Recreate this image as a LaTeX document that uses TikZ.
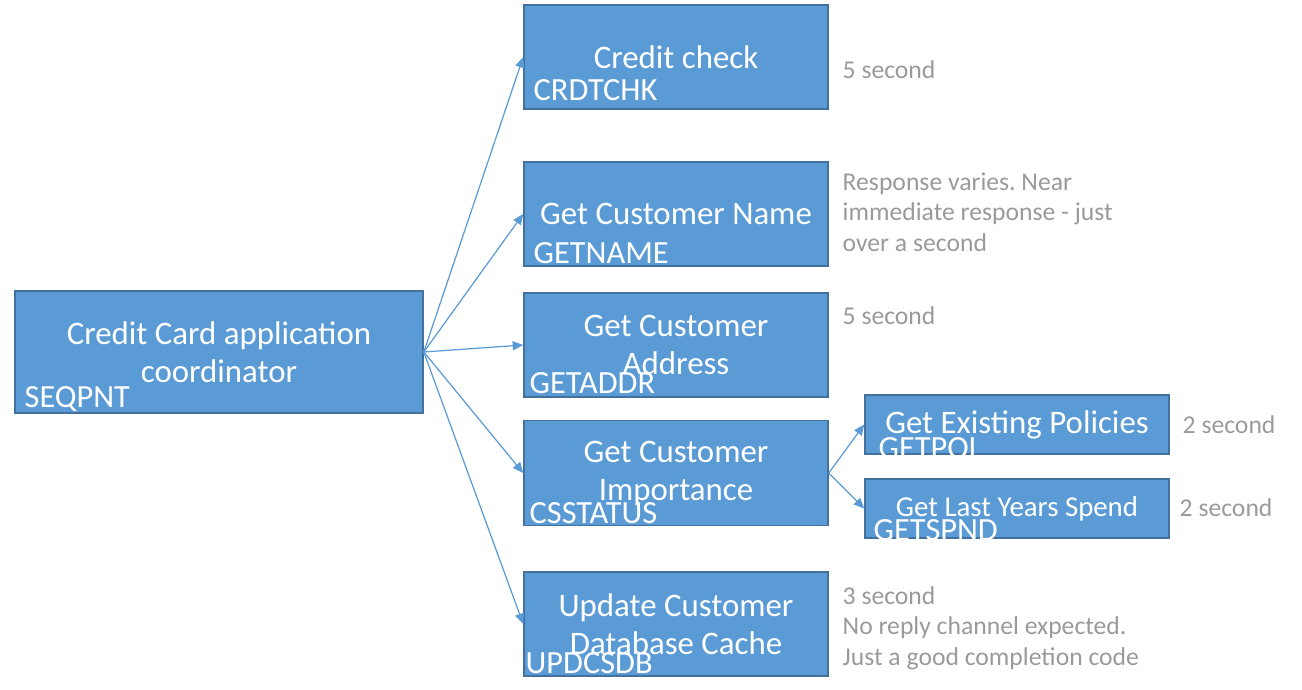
\documentclass[tikz,border=0pt]{standalone}
\usepackage{fontspec}
\setmainfont{Carlito}
\usetikzlibrary{arrows.meta}
\definecolor{taskblue}{HTML}{5B9BD5}
\definecolor{taskedge}{HTML}{41719C}
\definecolor{notegray}{HTML}{9A9A9A}
\frenchspacing

\begin{document}
\begin{tikzpicture}[
        task/.style={rectangle, draw=taskedge, line width=0.45pt, fill=taskblue, text=white, align=center,
            minimum width=3.04cm, minimum height=1.04cm, inner sep=0pt, font=\fontsize{9.35}{10.8}\selectfont},
        progid/.style={anchor=base west, inner sep=0pt, text=white, font=\fontsize{9.2}{10.8}\selectfont},
        note/.style={anchor=west, inner sep=0pt, align=left, text=notegray, font=\fontsize{7.3}{8.7}\selectfont},
        call/.style={draw=taskblue, line width=0.35pt, -{Triangle[length=3pt,width=2.6pt]}}
    ]
        \useasboundingbox (0,0) rectangle (13.02,-6.90);

        \node[task, minimum width=4.08cm, minimum height=1.22cm] (seqpnt) at (2.19,-3.52) {Credit Card application\\coordinator};
        \node[task] (crdtchk) at (6.76,-0.57) {Credit check};
        \node[task] (getname) at (6.76,-2.14) {Get Customer Name};
        \node[task] (getaddr) at (6.76,-3.45) {Get Customer\\Address};
        \node[task, minimum height=1.05cm] (csstatus) at (6.76,-4.73) {Get Customer\\Importance};
        \node[task] (updcsdb) at (6.76,-6.24) {Update Customer\\Database Cache};
        \node[task, minimum height=0.59cm] (getpol) at (10.17,-4.245) {Get Existing Policies};
        \node[task, minimum height=0.59cm, font=\fontsize{8.2}{9.7}\selectfont] (getspnd) at (10.17,-5.085) {Get Last Years Spend};

        % program names
        \node[progid] (seqpnt-id) at (0.24,-4.07) {SEQPNT};
        \node[progid] (crdtchk-id) at (5.33,-1.00) {CRDTCHK};
        \node[progid] (getname-id) at (5.33,-2.63) {GETNAME};
        \node[progid] (getaddr-id) at (5.29,-3.93) {GETADDR};
        \node[progid] (csstatus-id) at (5.29,-5.23) {CSSTATUS};
        \node[progid] (updcsdb-id) at (5.25,-6.73) {UPDCSDB};
        \node[progid] (getpol-id) at (8.78,-4.58) {GETPOL};
        \node[progid] (getspnd-id) at (8.73,-5.40) {GETSPND};

        % response times
        \node[note] (crdtchk-time) at (8.42,-0.70) {5 second};
        \node[note] (getname-time) at (8.42,-2.12) {Response varies. Near\\immediate response - just\\over a second};
        \node[note] (getaddr-time) at (8.42,-3.16) {5 second};
        \node[note] (getpol-time) at (11.82,-4.25) {2 second};
        \node[note] (getspnd-time) at (11.79,-5.08) {2 second};
        \node[note] (updcsdb-time) at (8.42,-6.28) {3 second\\No reply channel expected.\\Just a good completion code};

        \draw[call] (seqpnt.east) -- (crdtchk.west);
        \draw[call] (seqpnt.east) -- (getname.west);
        \draw[call] (seqpnt.east) -- (getaddr.west);
        \draw[call] (seqpnt.east) -- (csstatus.west);
        \draw[call] (seqpnt.east) -- (updcsdb.west);
        \draw[call] (csstatus.east) -- (getpol.west);
        \draw[call] (csstatus.east) -- (getspnd.west);
    \end{tikzpicture}
\end{document}
